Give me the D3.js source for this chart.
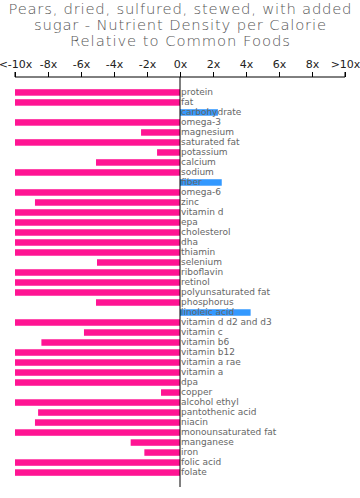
<!DOCTYPE html>
<html>
<head>
<meta charset="utf-8">
<script src="https://cdn.jsdelivr.net/npm/d3@7"></script>
<style>
  body { margin: 0; background: #fff; }
  svg { display: block; font-family: "DejaVu Sans", sans-serif; }
</style>
</head>
<body>
<div id="chart"></div>
<script>
// chart size
const width = 360;
const height = 498;
const margin = {left: 15, right: 15, top: 87.5, bottom: 10};

// title lines and their measured widths in the picture
const titleLines = [
  "Pears, dried, sulfured, stewed, with added",
  "sugar - Nutrient Density per Calorie",
  "Relative to Common Foods"
];
const titleWidths = [343, 292, 220];

// nutrients, top to bottom
const nutrients = [
  "protein", "fat", "carbohydrate", "omega-3", "magnesium", "saturated fat",
  "potassium", "calcium", "sodium", "fiber", "omega-6", "zinc", "vitamin d",
  "epa", "cholesterol", "dha", "thiamin", "selenium", "riboflavin", "retinol",
  "polyunsaturated fat", "phosphorus", "linoleic acid", "vitamin d d2 and d3",
  "vitamin c", "vitamin b6", "vitamin b12", "vitamin a rae", "vitamin a", "dpa",
  "copper", "alcohol ethyl", "pantothenic acid", "niacin",
  "monounsaturated fat", "manganese", "iron", "folic acid", "folate"
];

// relative density (x), clipped to +-10
const density = [
  -10, -10, 2.3, -10, -2.36, -10,
  -1.39, -5.09, -10, 2.53, -10, -8.79, -10,
  -10, -10, -10, -10, -5.03, -10, -10,
  -10, -5.09, 4.28, -10,
  -5.82, -8.4, -10, -10, -10, -10,
  -1.15, -10, -8.6, -8.79,
  -10, -2.99, -2.16, -10, -10
];

// axis ticks
const tickValues = [-10, -8, -6, -4, -2, 0, 2, 4, 6, 8, 10];
const tickLabels = ["<-10x", "-8x", "-6x", "-4x", "-2x", "0x", "2x", "4x", "6x", "8x", ">10x"];

const data = nutrients.map((n, i) => ({name: n, value: density[i]}));

const svg = d3.select("#chart")
  .append("svg")
  .attr("width", width)
  .attr("height", height);

// title
svg.append("g")
  .selectAll("text")
  .data(titleLines)
  .enter()
  .append("text")
  .attr("x", width / 2)
  .attr("y", (d, i) => 14 + i * 16)
  .attr("text-anchor", "middle")
  .attr("font-size", "14.8px")
  .attr("font-weight", 200)
  .attr("textLength", (d, i) => titleWidths[i])
  .attr("lengthAdjust", "spacing")
  .attr("fill", "#555")
  .text(d => d);

const x = d3.scaleLinear()
  .domain([-10, 10])
  .range([margin.left, width - margin.right]);

const y = d3.scaleBand()
  .domain(nutrients)
  .range([margin.top, margin.top + nutrients.length * 10])
  .paddingInner(0.35)
  .paddingOuter(0.17);

// top axis
const axis = svg.append("g")
  .attr("transform", "translate(0,77)")
  .call(d3.axisTop(x)
    .tickValues(tickValues)
    .tickSize(5)
    .tickPadding(4)
    .tickFormat((d, i) => tickLabels[i]));
axis.select(".domain").attr("stroke", "#000").attr("d", `M${x(-10)},-5V0H${x(10)}V-5`);
axis.selectAll("text").attr("font-size", "11px").attr("fill", "#222")
  .attr("font-family", "DejaVu Sans, sans-serif");

// bars
svg.selectAll(".bar")
  .data(data)
  .enter()
  .append("rect")
  .attr("class", "bar")
  .attr("x", d => x(Math.min(0, d.value)))
  .attr("y", d => y(d.name))
  .attr("width", d => Math.abs(x(d.value) - x(0)))
  .attr("height", y.bandwidth())
  .attr("fill", d => d.value < 0 ? "#ff1493" : "#3399ff");

// labels
svg.selectAll(".label")
  .data(data)
  .enter()
  .append("text")
  .attr("class", "label")
  .attr("x", x(0) + 1)
  .attr("y", d => y(d.name) + y.bandwidth() / 2 + 2.5)
  .attr("font-size", "9px")
  .attr("fill", "#666")
  .text(d => d.name);

// zero line
svg.append("line")
  .attr("x1", x(0)).attr("x2", x(0))
  .attr("y1", 77).attr("y2", 487)
  .attr("stroke", "#000")
  .attr("stroke-width", 1);
</script>
</body>
</html>
